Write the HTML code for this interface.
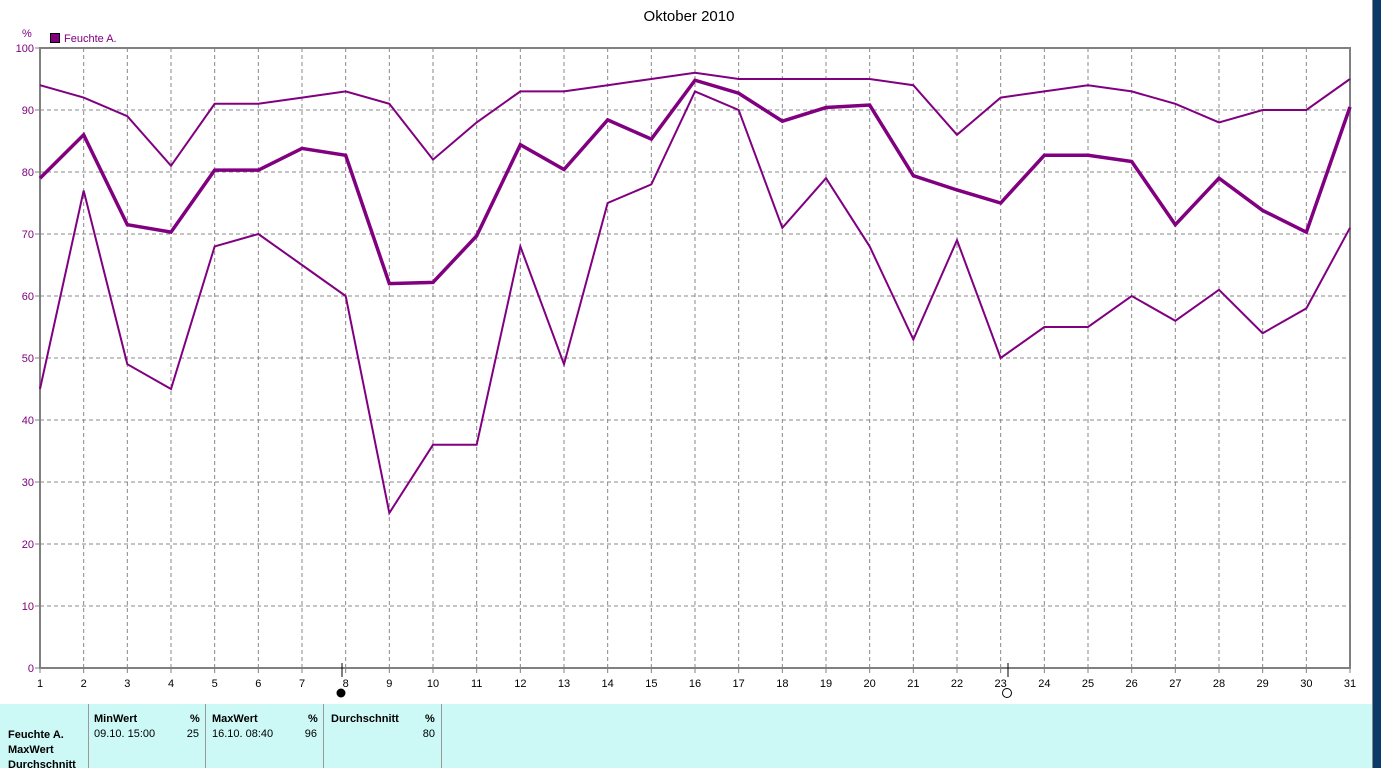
<!DOCTYPE html>
<html><head><meta charset="utf-8"><style>
body{margin:0;width:1381px;height:768px;overflow:hidden;background:#fff;font-family:"Liberation Sans",sans-serif}
</style></head><body>
<svg id="s" width="1381" height="768" style="position:absolute;left:0;top:0" font-family="Liberation Sans, sans-serif">
<rect x="1373" y="0" width="8" height="768" fill="#0a3a6a"/>
<rect x="1372" y="0" width="1" height="768" fill="#888"/>
<rect x="0" y="704" width="1372" height="64" fill="#ccf8f6"/>
<g stroke="#999" stroke-width="1">
<line x1="88.5" y1="704" x2="88.5" y2="768"/><line x1="205.5" y1="704" x2="205.5" y2="768"/><line x1="323.5" y1="704" x2="323.5" y2="768"/><line x1="441.5" y1="704" x2="441.5" y2="768"/>
</g>
<g font-size="11" font-weight="bold" fill="#000">
<text x="94" y="722">MinWert</text><text x="190" y="722">%</text>
<text x="212" y="722">MaxWert</text><text x="308" y="722">%</text>
<text x="331" y="722">Durchschnitt</text><text x="425" y="722">%</text>
<text x="8" y="738">Feuchte A.</text><text x="8" y="753">MaxWert</text><text x="8" y="768">Durchschnitt</text>
</g>
<g font-size="11" fill="#000">
<text x="94" y="737">09.10.  15:00</text><text x="199" y="737" text-anchor="end">25</text>
<text x="212" y="737">16.10.  08:40</text><text x="317" y="737" text-anchor="end">96</text>
<text x="435" y="737" text-anchor="end">80</text>
</g>
<text x="689" y="21" font-size="15" text-anchor="middle" fill="#000">Oktober 2010</text>
<text x="22" y="37" font-size="11" fill="#800080">%</text>
<rect x="50.5" y="33.5" width="9" height="9" fill="#800080" stroke="#000"/>
<text x="64" y="42" font-size="11" fill="#800080">Feuchte A.</text>
<g id="g"></g>
</svg>
<script>
var g=document.getElementById('g'),h='';
var X=d=>40+(d-1)*1310/30, Y=v=>668-v*6.2;
for(var i=1;i<=9;i++){var y=Y(i*10);h+='<line x1="40" y1="'+y+'" x2="1350" y2="'+y+'" stroke="#888" stroke-dasharray="4,3"/>';}
for(var d=2;d<=30;d++){var x=X(d);h+='<line x1="'+x+'" y1="48" x2="'+x+'" y2="668" stroke="#888" stroke-dasharray="4,3"/>';}
h+='<rect x="40" y="48" width="1310" height="620" fill="none" stroke="#808080" stroke-width="2"/>';
for(var i=0;i<=10;i++){var y=Y(i*10);h+='<line x1="35" y1="'+y+'" x2="40" y2="'+y+'" stroke="#808080"/><text x="34" y="'+(y+4)+'" font-size="11" fill="#800080" text-anchor="end">'+(i*10)+'</text>';}
for(var d=1;d<=31;d++){var x=X(d);h+='<line x1="'+x+'" y1="668" x2="'+x+'" y2="673" stroke="#808080"/><text x="'+x+'" y="687" font-size="11" text-anchor="middle">'+d+'</text>';}
var mx=[94,92,89,81,91,91,92,93,91,82,88,93,93,94,95,96,95,95,95,95,94,86,92,93,94,93,91,88,90,90,95];
var av=[79,86,71.5,70.3,80.3,80.3,83.8,82.7,62,62.2,69.7,84.4,80.4,88.4,85.3,94.8,92.7,88.2,90.4,90.8,79.4,77.1,75,82.7,82.7,81.7,71.5,79,73.8,70.3,90.5];
var mn=[45,77,49,45,68,70,65,60,25,36,36,68,49,75,78,93,90,71,79,68,53,69,50,55,55,60,56,61,54,58,71];
function P(a,w){return '<polyline fill="none" stroke="#800080" stroke-width="'+w+'" points="'+a.map((v,i)=>X(i+1)+','+Y(v)).join(' ')+'"/>';}
h+=P(mx,2)+P(mn,2)+P(av,3.5);
h+='<line x1="342" y1="663" x2="342" y2="677" stroke="#000"/><circle cx="341" cy="693" r="4.5" fill="#000"/>';
h+='<line x1="1008" y1="663" x2="1008" y2="677" stroke="#000"/><circle cx="1007" cy="693" r="4.5" fill="#fff" stroke="#000"/>';
g.innerHTML=h;
</script>
</body></html>
